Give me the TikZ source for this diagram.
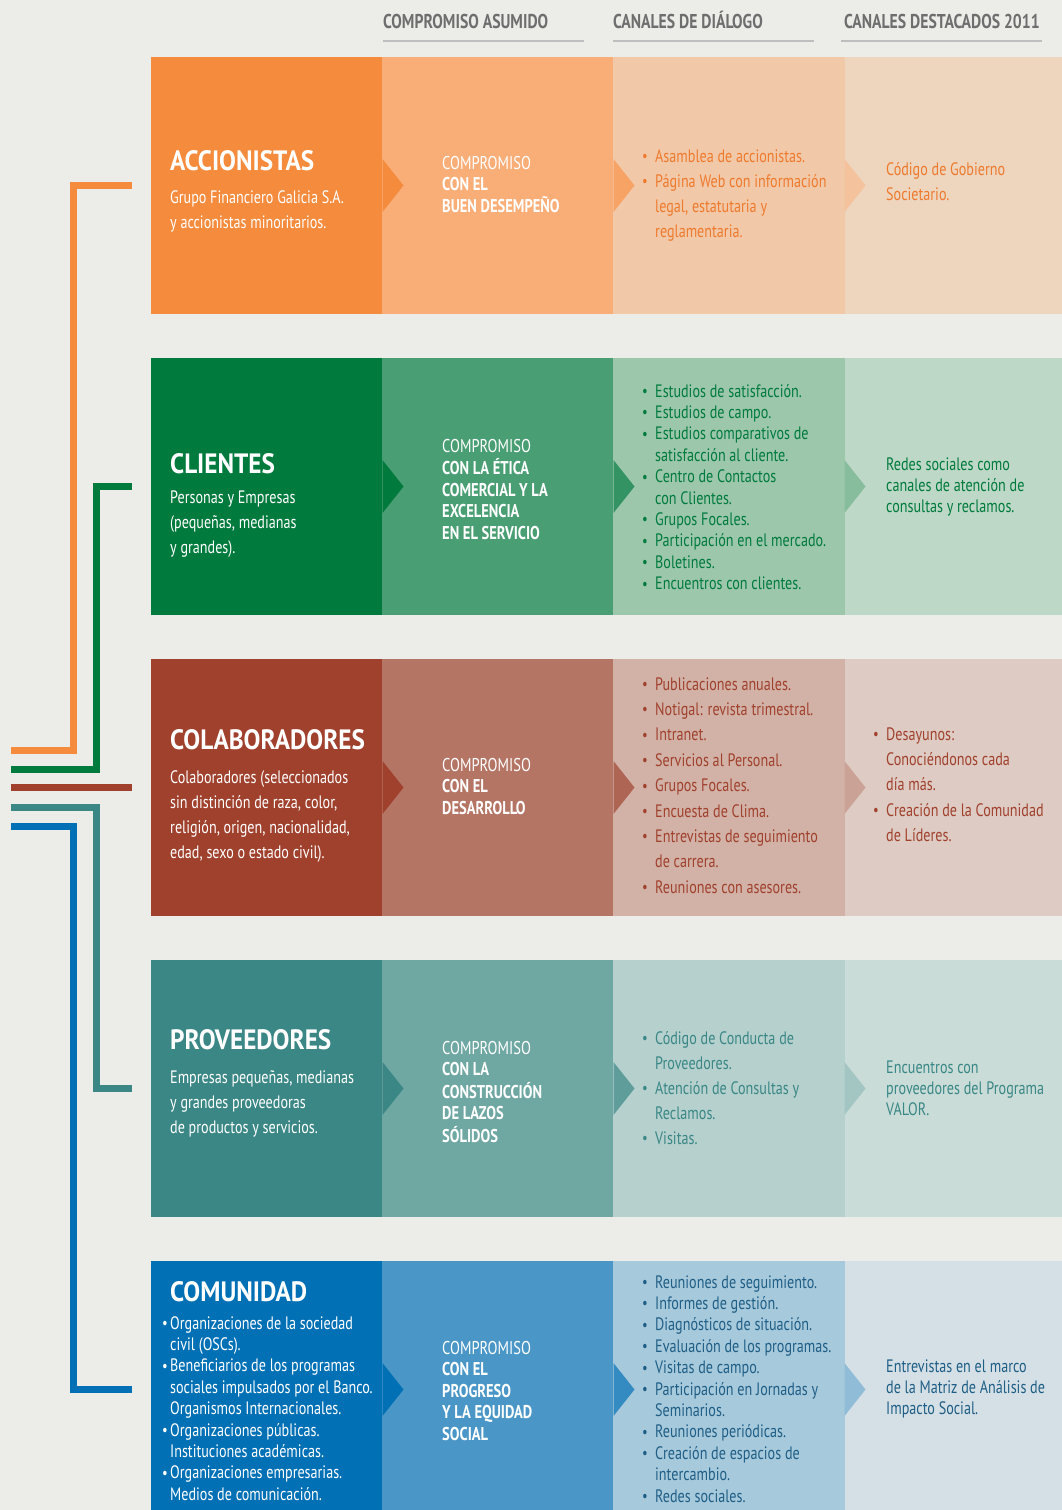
\documentclass[tikz,border=0pt]{standalone}
\usepackage{fontspec}
\setmainfont[FakeStretch=0.785]{PT Sans}
\newfontfamily\titfont[FakeStretch=0.9]{PT Sans}
\usetikzlibrary{positioning}

\definecolor{fondo}{HTML}{ECECE8}
\definecolor{gris}{HTML}{6E6E6E}
\definecolor{raya}{HTML}{BEBEBE}
\definecolor{accA}{HTML}{F58B3C}
\definecolor{accB}{HTML}{F9AE78}
\definecolor{accC}{HTML}{F2C9A8}
\definecolor{accD}{HTML}{EDD5BE}
\definecolor{accT}{HTML}{EE7A2E}
\definecolor{cliA}{HTML}{007A3D}
\definecolor{cliB}{HTML}{4A9E73}
\definecolor{cliC}{HTML}{9CC7AB}
\definecolor{cliD}{HTML}{BDD8C6}
\definecolor{cliT}{HTML}{007A3D}
\definecolor{colA}{HTML}{A0412D}
\definecolor{colB}{HTML}{B57565}
\definecolor{colC}{HTML}{D2B1A7}
\definecolor{colD}{HTML}{DECBC3}
\definecolor{colT}{HTML}{A0412D}
\definecolor{proA}{HTML}{3A8786}
\definecolor{proB}{HTML}{6FA7A3}
\definecolor{proC}{HTML}{B5D0CD}
\definecolor{proD}{HTML}{C9DCD7}
\definecolor{proT}{HTML}{3A8786}
\definecolor{comA}{HTML}{0270B5}
\definecolor{comB}{HTML}{4A97C7}
\definecolor{comC}{HTML}{A7C9DC}
\definecolor{comD}{HTML}{D4E0E6}
\definecolor{comT}{HTML}{1F5E85}

\newcommand{\punto}{\raisebox{0.5pt}{\fontsize{16}{16}\selectfont\textbullet}}
\newcommand{\lista}[2][13pt]{\begin{tabular}[t]{@{}p{#1}@{}l@{}}#2\end{tabular}}
\newcommand{\bloque}[1]{\begin{tabular}[t]{@{}l@{}}#1\end{tabular}}

\tikzset{
    caja/.style={anchor=north west, minimum width=231.5pt, minimum height=257pt,
        inner sep=0pt, outer sep=0pt},
    encabezado/.style={anchor=base west, inner sep=0pt, text=gris,
        font=\bfseries\fontsize{20}{22}\selectfont},
    titulo/.style={anchor=base west, inner sep=0pt, text=white,
        font=\titfont\bfseries\fontsize{28}{30}\selectfont},
    texto/.style={anchor=base west, inner sep=0pt,
        font=\fontsize{18}{25}\selectfont},
    junto/.style={texto, font=\fontsize{18}{21.4}\selectfont},
    compromiso/.style={texto, text=white, font=\fontsize{18.5}{21.5}\selectfont},
    conector/.style={line width=7pt},
}

\begin{document}
\begin{tikzpicture}[x=1pt, y=-1pt]
    \fill[fondo] (0,0) rectangle (1062,1510);
    \useasboundingbox (0,0) rectangle (1062,1510);

    \node[encabezado] (hcomp) at (383,28) {COMPROMISO ASUMIDO};
    \node[encabezado] (hcan) at (613,28) {CANALES DE DIÁLOGO};
    \node[encabezado] (hdes) at (844,28) {CANALES DESTACADOS 2011};
    \foreach \x in {383, 613, 841}{
        \draw[raya, line width=2pt] (\x,41) -- (\x+201,41);
    }

    \foreach \r/\t in {acc/57, cli/358, col/659, pro/960, com/1261}{
        \node[caja, fill=\r A] (\r1) at (151,\t) {};
        \node[caja, fill=\r B] (\r2) at (382,\t) {};
        \node[caja, fill=\r C] (\r3) at (613,\t) {};
        \node[caja, fill=\r D, minimum width=218pt] (\r4) at (845,\t) {};
        \fill[\r A] (\r1.east) ++(0,-26.5) -- ++(21,26.5) -- ++(-21,26.5) -- cycle;
        \fill[\r B!70!\r A] (\r2.east) ++(0,-26.5) -- ++(21,26.5) -- ++(-21,26.5) -- cycle;
        \fill[\r C!75!\r B] (\r3.east) ++(0,-26.5) -- ++(21,26.5) -- ++(-21,26.5) -- cycle;
    }

    \coordinate (accfin) at (11,750);
    \coordinate (clifin) at (11,769);
    \coordinate (colfin) at (11,787.5);
    \coordinate (profin) at (11,807);
    \coordinate (comfin) at (11,826);
    \draw[conector, accA] ([xshift=-19pt]acc1.west) -| ([xshift=62pt]accfin) -- (accfin);
    \draw[conector, cliA] ([xshift=-19pt]cli1.west) -| ([xshift=85.5pt]clifin) -- (clifin);
    \draw[conector, colA] ([xshift=-19pt]col1.west) -- (colfin);
    \draw[conector, proA] ([xshift=-19pt]pro1.west) -| ([xshift=85.5pt]profin) -- (profin);
    \draw[conector, comA] ([xshift=-19pt]com1.west) -| ([xshift=62pt]comfin) -- (comfin);

    \node[titulo] (tacc) at (170,170) {ACCIONISTAS};
    \node[texto, text=white] at (170,203) {\bloque{Grupo Financiero Galicia S.A.\\y accionistas minoritarios.}};
    \node[titulo] (tcli) at (170,473) {CLIENTES};
    \node[texto, text=white] at (170,503) {\bloque{Personas y Empresas\\(pequeñas, medianas\\y grandes).}};
    \node[titulo] (tcol) at (170,749) {COLABORADORES};
    \node[texto, text=white] at (170,783) {\bloque{Colaboradores (seleccionados\\sin distinción de raza, color,\\religión, origen, nacionalidad,\\edad, sexo o estado civil).}};
    \node[titulo] (tpro) at (170,1049) {PROVEEDORES};
    \node[texto, text=white] at (170,1083) {\bloque{Empresas pequeñas, medianas\\y grandes proveedoras\\de productos y servicios.}};
    \node[titulo] (tcom) at (170,1301) {COMUNIDAD};
    \node[junto, text=white] at (162,1329) {\lista[8pt]{\punto & Organizaciones de la sociedad\\ & civil (OSCs).\\
        \punto & Beneficiarios de los programas\\ & sociales impulsados por el Banco.\\ & Organismos Internacionales.\\
        \punto & Organizaciones públicas.\\ & Instituciones académicas.\\
        \punto & Organizaciones empresarias.\\ & Medios de comunicación.}};

    \node[compromiso] at (442,169) {\bloque{COMPROMISO\\\textbf{CON EL}\\\textbf{BUEN DESEMPEÑO}}};
    \node[compromiso] at (442,452) {\bloque{COMPROMISO\\\textbf{CON LA ÉTICA}\\\textbf{COMERCIAL Y LA}\\\textbf{EXCELENCIA}\\\textbf{EN EL SERVICIO}}};
    \node[compromiso] at (442,771) {\bloque{COMPROMISO\\\textbf{CON EL}\\\textbf{DESARROLLO}}};
    \node[compromiso] at (442,1054) {\bloque{COMPROMISO\\\textbf{CON LA}\\\textbf{CONSTRUCCIÓN}\\\textbf{DE LAZOS}\\\textbf{SÓLIDOS}}};
    \node[compromiso] at (442,1354) {\bloque{COMPROMISO\\\textbf{CON EL}\\\textbf{PROGRESO}\\\textbf{Y LA EQUIDAD}\\\textbf{SOCIAL}}};

    \node[texto, text=accT] at (642,162) {\lista{\punto & Asamblea de accionistas.\\
        \punto & Página Web con información\\ & legal, estatutaria y\\ & reglamentaria.}};
    \node[junto, text=cliT] at (642,397) {\lista{\punto & Estudios de satisfacción.\\
        \punto & Estudios de campo.\\
        \punto & Estudios comparativos de\\ & satisfacción al cliente.\\
        \punto & Centro de Contactos\\ & con Clientes.\\
        \punto & Grupos Focales.\\
        \punto & Participación en el mercado.\\
        \punto & Boletines.\\
        \punto & Encuentros con clientes.}};
    \node[texto, text=colT, font=\fontsize{18}{25.4}\selectfont] at (642,690) {\lista{\punto & Publicaciones anuales.\\
        \punto & Notigal: revista trimestral.\\
        \punto & Intranet.\\
        \punto & Servicios al Personal.\\
        \punto & Grupos Focales.\\
        \punto & Encuesta de Clima.\\
        \punto & Entrevistas de seguimiento\\ & de carrera.\\
        \punto & Reuniones con asesores.}};
    \node[texto, text=proT] at (642,1044) {\lista{\punto & Código de Conducta de\\ & Proveedores.\\
        \punto & Atención de Consultas y\\ & Reclamos.\\
        \punto & Visitas.}};
    \node[junto, text=comT] at (642,1288) {\lista{\punto & Reuniones de seguimiento.\\
        \punto & Informes de gestión.\\
        \punto & Diagnósticos de situación.\\
        \punto & Evaluación de los programas.\\
        \punto & Visitas de campo.\\
        \punto & Participación en Jornadas y\\ & Seminarios.\\
        \punto & Reuniones periódicas.\\
        \punto & Creación de espacios de\\ & intercambio.\\
        \punto & Redes sociales.}};

    \node[texto, text=accT] at (886,175) {\bloque{Código de Gobierno\\Societario.}};
    \node[junto, text=cliT] at (886,470) {\bloque{Redes sociales como\\canales de atención de\\consultas y reclamos.}};
    \node[texto, text=colT, font=\fontsize{18}{25.4}\selectfont] at (873,740) {\lista{\punto & Desayunos:\\ & Conociéndonos cada\\ & día más.\\
        \punto & Creación de la Comunidad\\ & de Líderes.}};
    \node[junto, text=proT] at (886,1073) {\bloque{Encuentros con\\proveedores del Programa\\VALOR.}};
    \node[junto, text=comT] at (886,1372) {\bloque{Entrevistas en el marco\\de la Matriz de Análisis de\\Impacto Social.}};
\end{tikzpicture}
\end{document}
